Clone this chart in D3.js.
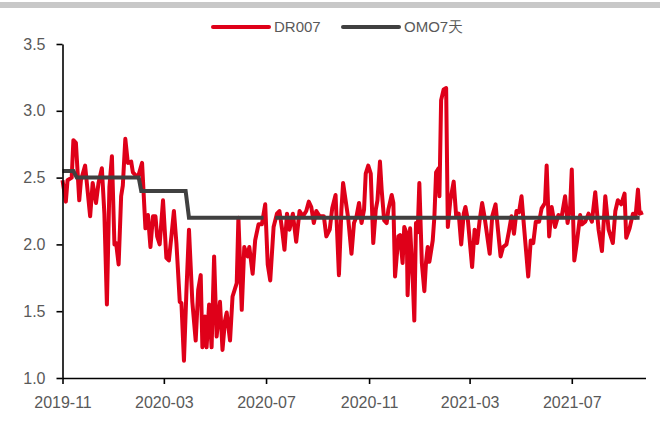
<!DOCTYPE html>
<html>
<head>
<meta charset="utf-8">
<script src="https://cdn.jsdelivr.net/npm/d3@7"></script>
<style>
  body { margin: 0; background: #fff; }
  svg text { font-family: "Liberation Sans", Arial, sans-serif; fill: #595959; }
</style>
</head>
<body>
<svg width="660" height="441"></svg>
<script>
// DR007 daily rate
const drDates = [
  "2019-11-01","2019-11-05","2019-11-07","2019-11-12","2019-11-14","2019-11-17","2019-11-21","2019-11-23","2019-11-28",
  "2019-12-04","2019-12-07","2019-12-11","2019-12-14","2019-12-18","2019-12-21","2019-12-24","2019-12-27","2019-12-30",
  "2020-01-02","2020-01-04","2020-01-07","2020-01-10","2020-01-12","2020-01-15","2020-01-18","2020-01-22","2020-01-24","2020-01-30",
  "2020-02-04","2020-02-08","2020-02-11","2020-02-14","2020-02-17","2020-02-20","2020-02-22","2020-02-25","2020-02-29",
  "2020-03-04","2020-03-07","2020-03-10","2020-03-13","2020-03-16","2020-03-20","2020-03-22","2020-03-25","2020-03-28","2020-03-31",
  "2020-04-04","2020-04-08","2020-04-11","2020-04-14","2020-04-16","2020-04-19","2020-04-21","2020-04-24","2020-04-27","2020-04-30",
  "2020-05-03","2020-05-07","2020-05-10","2020-05-13","2020-05-15","2020-05-19","2020-05-22","2020-05-27","2020-05-29",
  "2020-06-02","2020-06-05","2020-06-09","2020-06-11","2020-06-15","2020-06-18","2020-06-22","2020-06-26","2020-06-30",
  "2020-07-03","2020-07-06","2020-07-10","2020-07-14","2020-07-17","2020-07-20","2020-07-23","2020-07-26","2020-07-29",
  "2020-08-02","2020-08-06","2020-08-10","2020-08-14","2020-08-18","2020-08-21","2020-08-24","2020-08-27","2020-08-30",
  "2020-09-03","2020-09-08","2020-09-11","2020-09-15","2020-09-18","2020-09-22","2020-09-26","2020-09-29",
  "2020-10-01","2020-10-07","2020-10-11","2020-10-14","2020-10-17","2020-10-20","2020-10-23","2020-10-26","2020-10-28","2020-10-31",
  "2020-11-03","2020-11-06","2020-11-09","2020-11-11","2020-11-14","2020-11-16","2020-11-19","2020-11-22","2020-11-24","2020-11-28","2020-11-30",
  "2020-12-02","2020-12-06","2020-12-08","2020-12-11","2020-12-13","2020-12-16","2020-12-17","2020-12-20","2020-12-23","2020-12-25","2020-12-27","2020-12-29","2020-12-31",
  "2021-01-03","2021-01-06","2021-01-08","2021-01-10","2021-01-12","2021-01-16","2021-01-18","2021-01-20","2021-01-23","2021-01-24","2021-01-26","2021-01-29",
  "2021-02-01","2021-02-03","2021-02-06","2021-02-10","2021-02-13","2021-02-16","2021-02-19","2021-02-22","2021-02-24","2021-02-27",
  "2021-03-04","2021-03-07","2021-03-10","2021-03-13","2021-03-16","2021-03-19","2021-03-25","2021-03-28",
  "2021-04-01","2021-04-04","2021-04-07","2021-04-10","2021-04-14","2021-04-17","2021-04-20","2021-04-23","2021-04-26","2021-04-29",
  "2021-05-02","2021-05-05","2021-05-10","2021-05-13","2021-05-16","2021-05-19","2021-05-23","2021-05-26","2021-05-30",
  "2021-06-01","2021-06-04","2021-06-07","2021-06-11","2021-06-15","2021-06-19","2021-06-23","2021-06-26","2021-06-29",
  "2021-07-01","2021-07-04","2021-07-07","2021-07-11","2021-07-13","2021-07-17","2021-07-21","2021-07-25","2021-07-29",
  "2021-08-02","2021-08-06","2021-08-10","2021-08-14","2021-08-19","2021-08-22","2021-08-25","2021-08-29",
  "2021-09-02","2021-09-04","2021-09-08","2021-09-12","2021-09-15","2021-09-18","2021-09-20","2021-09-24"
];
const drValues = [
  2.48,2.32,2.48,2.50,2.78,2.76,2.33,2.48,2.59,
  2.21,2.46,2.31,2.46,2.57,2.23,1.55,2.43,2.66,
  2.00,2.01,1.85,2.36,2.44,2.79,2.61,2.62,2.54,2.50,
  2.61,2.12,2.22,1.98,2.21,2.21,2.06,2.00,2.33,
  1.90,1.88,2.06,2.25,2.01,1.57,1.56,1.13,1.66,2.11,
  1.57,1.28,1.66,1.77,1.23,1.46,1.23,1.55,1.23,1.91,
  1.31,1.57,1.21,1.43,1.49,1.28,1.61,1.71,2.20,
  1.51,1.98,1.91,1.98,1.78,2.03,2.15,2.15,2.30,
  1.85,1.73,2.13,2.23,2.25,2.12,1.96,2.23,2.11,
  2.23,2.02,2.25,2.21,2.25,2.32,2.28,2.16,2.25,
  2.21,2.21,2.06,2.11,2.27,2.37,1.77,2.26,
  2.46,2.20,1.93,2.16,2.21,2.31,2.16,2.26,2.53,2.59,
  2.53,2.01,2.26,2.33,2.62,2.41,2.18,2.16,2.26,2.37,2.31,
  1.76,2.06,2.07,1.86,2.13,2.08,1.62,2.12,1.76,1.43,2.16,2.09,2.46,
  1.86,1.65,1.87,1.98,1.87,2.03,2.21,2.54,2.57,2.36,3.08,3.16,
  3.17,2.13,2.33,2.47,2.21,2.23,2.00,2.23,2.28,2.18,
  1.83,2.11,2.01,2.18,2.31,2.20,1.93,2.21,
  2.30,2.10,1.91,1.98,2.00,2.10,2.21,2.08,2.25,2.24,
  2.36,2.13,1.76,2.03,2.01,2.17,2.17,2.27,2.31,
  2.59,2.06,2.28,2.13,2.22,2.21,2.36,2.16,2.28,
  2.56,1.88,2.01,2.22,2.15,2.17,2.23,2.17,2.39,
  2.11,1.95,2.36,2.11,2.01,2.25,2.33,2.30,
  2.38,2.05,2.12,2.23,2.20,2.41,2.23,2.24
];

// OMO 7-day reverse repo rate (null = no operation)
const omoDates  = ["2019-11-01","2019-11-14","2019-11-18","2020-01-31","2020-02-03","2020-03-27","2020-03-31","2020-06-28","2020-07-01","2020-07-12","2021-09-20"];
const omoValues = [2.55, 2.55, 2.50, 2.50, 2.40, 2.40, 2.20, 2.20, null, 2.20, 2.20];

const yTicks = [1.0, 1.5, 2.0, 2.5, 3.0, 3.5];
const xTicks = ["2019-11-01","2020-03-01","2020-07-01","2020-11-01","2021-03-01","2021-07-01"];
const seriesNames = ["DR007", "OMO7天"];
const seriesColors = ["#df0019", "#404040"];

const parse = d3.utcParse("%Y-%m-%d");
const dr = drDates.map((d, i) => ({ date: parse(d), value: drValues[i] }));
const omo = omoDates.map((d, i) => ({ date: parse(d), value: omoValues[i] }));

const svg = d3.select("svg");

// thin grey strip at the top
svg.append("rect").attr("x", 0).attr("y", 2).attr("width", 660).attr("height", 6).attr("fill", "#c8c8c8");

const x = d3.scaleUtc()
    .domain([parse("2019-11-01"), parse("2021-09-27")])
    .range([62.5, 645.5]);

const y = d3.scaleLinear()
    .domain([1.0, 3.5])
    .range([378, 44]);

const line = d3.line()
    .defined(d => d.value != null)
    .x(d => x(d.date))
    .y(d => y(d.value));

svg.append("path")
    .datum(dr)
    .attr("fill", "none")
    .attr("stroke", seriesColors[0])
    .attr("stroke-width", 4)
    .attr("stroke-linejoin", "round")
    .attr("d", line);

svg.append("path")
    .datum(omo)
    .attr("fill", "none")
    .attr("stroke", seriesColors[1])
    .attr("stroke-width", 4)
    .attr("d", line);

// axes
svg.append("g")
    .attr("transform", "translate(62.5,0)")
    .call(d3.axisLeft(y).tickValues(yTicks).tickFormat(d3.format(".1f")).tickSize(6).tickSizeOuter(0).tickPadding(11));

svg.append("g")
    .attr("transform", "translate(0,378)")
    .call(d3.axisBottom(x).tickValues(xTicks.map(parse)).tickFormat(d3.utcFormat("%Y-%m")).tickSize(6).tickSizeOuter(0).tickPadding(13));

svg.selectAll(".domain, .tick line").attr("stroke", "#000").attr("stroke-width", 1.6);
svg.selectAll(".tick text").attr("font-size", 16).attr("fill", "#595959")
    .style("font-family", "'Liberation Sans', Arial, sans-serif");

// legend
const legendX = [213, 343];
const legend = svg.append("g");
seriesNames.forEach((name, i) => {
  legend.append("line")
      .attr("x1", legendX[i]).attr("x2", legendX[i] + 56)
      .attr("y1", 27).attr("y2", 27)
      .attr("stroke", seriesColors[i])
      .attr("stroke-width", 4)
      .attr("stroke-linecap", "round");
  legend.append("text")
      .attr("x", legendX[i] + 61)
      .attr("y", 27)
      .attr("dy", "0.35em")
      .attr("font-size", 15)
      .text(name);
});
</script>
</body>
</html>
